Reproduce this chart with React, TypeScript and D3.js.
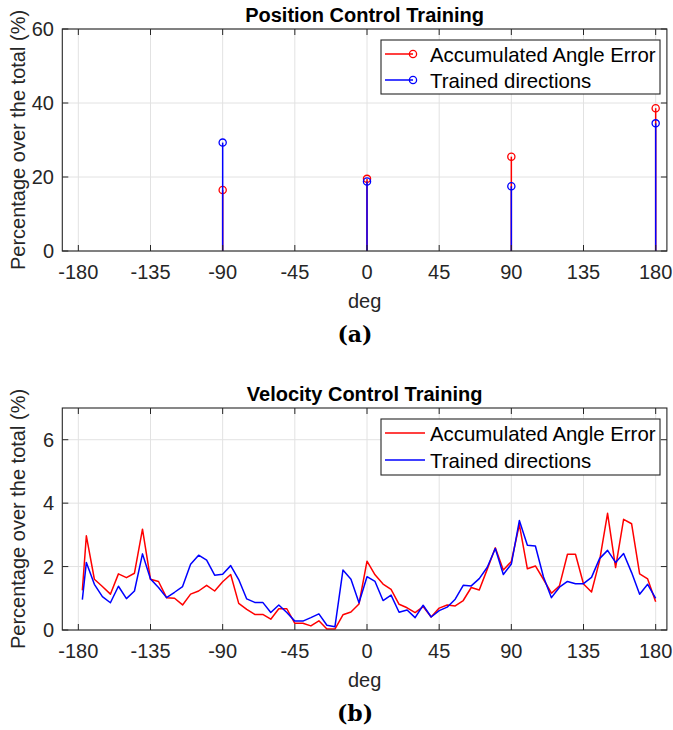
import React from "react";
import * as d3 from "d3";

// ---------- data ----------
const xTicks = [-180, -135, -90, -45, 0, 45, 90, 135, 180];
const posYTicks = [0, 20, 40, 60];
const velYTicks = [0, 2, 4, 6];

const posDeg = [-90, 0, 90, 180];
const posError = [16.5, 19.5, 25.5, 38.6];
const posTrained = [29.3, 18.8, 17.5, 34.5];

const velDeg = [
  -177.5, -175, -170, -165, -160, -155, -150, -145, -140, -135, -130, -125, -120, -115, -110, -105,
  -100, -95, -90, -85, -80, -75, -70, -65, -60, -55, -50, -45, -40, -35, -30, -25, -20, -15, -10, -5,
  0, 5, 10, 15, 20, 25, 30, 35, 40, 45, 50, 55, 60, 65, 70, 75, 80, 85, 90, 95, 100, 105, 110, 115,
  120, 125, 130, 135, 140, 145, 150, 155, 160, 165, 170, 175, 180,
];
const velError = [
  1.25, 2.97, 1.6, 1.37, 1.13, 1.77, 1.65, 1.79, 3.18, 1.6, 1.53, 1.02, 1.0, 0.79, 1.13, 1.23,
  1.41, 1.23, 1.52, 1.75, 0.84, 0.65, 0.49, 0.49, 0.34, 0.67, 0.67, 0.21, 0.21, 0.13, 0.29, 0.03, 0.03, 0.48, 0.57, 0.82,
  2.17, 1.74, 1.45, 1.28, 0.81, 0.7, 0.55, 0.74, 0.41, 0.69, 0.79, 0.76, 0.93, 1.34, 1.26, 1.92, 2.59, 1.89, 2.16, 3.32, 1.93, 2.02, 1.6, 1.16,
  1.39, 2.39, 2.39, 1.45, 1.2, 2.18, 3.68, 1.97, 3.49, 3.35, 1.77, 1.61, 0.89,
];
const velTrained = [
  0.96, 2.13, 1.44, 1.05, 0.86, 1.38, 0.99, 1.23, 2.4, 1.61, 1.34, 1.02, 1.19, 1.37, 2.07, 2.36,
  2.2, 1.73, 1.76, 2.03, 1.59, 0.98, 0.87, 0.87, 0.55, 0.79, 0.55, 0.28, 0.28, 0.39, 0.51, 0.15, 0.1, 1.89, 1.6, 0.86,
  1.68, 1.53, 0.93, 1.1, 0.56, 0.63, 0.39, 0.78, 0.41, 0.61, 0.72, 0.97, 1.41, 1.39, 1.62, 1.98, 2.57, 1.75, 2.08, 3.45, 2.67, 2.65, 1.68, 1.02,
  1.35, 1.53, 1.46, 1.46, 1.66, 2.25, 2.51, 2.13, 2.41, 1.81, 1.13, 1.44, 1.0,
];

const legendLabels = ["Accumulated Angle Error", "Trained directions"];
const seriesColors = ["#ff0000", "#0000ff"];

// ---------- layout ----------
const W = 673;
const H = 730;
const LEFT = 62.3;
const RIGHT = 666.9;
const AX = "#262626";
const GRID = "#e2e2e2";
const FONT = "'Liberation Sans', Arial, Helvetica, sans-serif";

const x = d3.scaleLinear().domain([-190, 187]).range([LEFT, RIGHT]);

type PanelProps = {
  top: number;
  bottom: number;
  y: d3.ScaleLinear<number, number>;
  yTicks: number[];
  title: string;
  caption: string;
  children?: React.ReactNode;
};

function Panel({ top, bottom, y, yTicks, title, caption, children }: PanelProps) {
  const tl = 6;
  const cx = (LEFT + RIGHT) / 2;
  return (
    <g>
      {xTicks.map((t) => (
        <line key={"gx" + t} x1={x(t)} x2={x(t)} y1={top} y2={bottom} stroke={GRID} strokeWidth={1} />
      ))}
      {yTicks.map((t) => (
        <line key={"gy" + t} x1={LEFT} x2={RIGHT} y1={y(t)} y2={y(t)} stroke={GRID} strokeWidth={1} />
      ))}
      {children}
      <rect x={LEFT} y={top} width={RIGHT - LEFT} height={bottom - top} fill="none" stroke={AX} strokeWidth={1.1} />
      {xTicks.map((t) => (
        <g key={"tx" + t}>
          <line x1={x(t)} x2={x(t)} y1={bottom} y2={bottom - tl} stroke={AX} strokeWidth={1} />
          <line x1={x(t)} x2={x(t)} y1={top} y2={top + tl} stroke={AX} strokeWidth={1} />
          <text x={x(t)} y={bottom + 28} textAnchor="middle" fontFamily={FONT} fontSize={20} fill={AX}>
            {String(t)}
          </text>
        </g>
      ))}
      {yTicks.map((t) => (
        <g key={"ty" + t}>
          <line x1={LEFT} x2={LEFT + tl} y1={y(t)} y2={y(t)} stroke={AX} strokeWidth={1} />
          <line x1={RIGHT} x2={RIGHT - tl} y1={y(t)} y2={y(t)} stroke={AX} strokeWidth={1} />
          <text x={54} y={y(t) + 7.2} textAnchor="end" fontFamily={FONT} fontSize={20} fill={AX}>
            {String(t)}
          </text>
        </g>
      ))}
      <text x={cx} y={top - 7} textAnchor="middle" fontFamily={FONT} fontWeight="bold" fontSize={20} fill="#000">
        {title}
      </text>
      <text x={cx} y={bottom + 57} textAnchor="middle" fontFamily={FONT} fontSize={20} fill={AX}>
        deg
      </text>
      <text
        transform={`translate(25,${(top + bottom) / 2}) rotate(-90)`}
        textAnchor="middle"
        fontFamily={FONT}
        fontSize={20}
        fill={AX}
      >
        Percentage over the total (%)
      </text>
      <text x={355} y={bottom + 91} textAnchor="middle" fontFamily="'DejaVu Serif', 'Liberation Serif', serif" fontWeight="bold" fontSize={22} fill="#000">
        {caption}
      </text>
    </g>
  );
}

function Legend({ top, markers }: { top: number; markers: boolean }) {
  const lx = 381;
  const rx = 660;
  const h = markers ? 54 : 56;
  const rows = markers ? [top + 14, top + 40] : [top + 14, top + 41];
  const lineEnd = markers ? 413 : 425;
  return (
    <g>
      <rect x={lx} y={top} width={rx - lx} height={h} fill="#fff" stroke={AX} strokeWidth={1.1} />
      {legendLabels.map((lab, i) => (
        <g key={lab}>
          <line x1={385} x2={lineEnd} y1={rows[i]} y2={rows[i]} stroke={seriesColors[i]} strokeWidth={1.5} />
          {markers && <circle cx={413} cy={rows[i]} r={3.6} fill="none" stroke={seriesColors[i]} strokeWidth={1.3} />}
          <text x={430} y={rows[i] + 7.5} fontFamily={FONT} fontSize={20.4} fill="#000">
            {lab}
          </text>
        </g>
      ))}
    </g>
  );
}

export default function App() {
  const yPos = d3.scaleLinear().domain([0, 60]).range([251, 29]);
  const yVel = d3.scaleLinear().domain([0, 7]).range([630, 408]);

  const lineGen = (vals: number[]) =>
    d3
      .line<number>()
      .x((_, i) => x(velDeg[i]))
      .y((v) => yVel(v))(vals) as string;

  const stems = (vals: number[], color: string) =>
    posDeg.map((d, i) => (
      <g key={color + d}>
        <line x1={x(d)} x2={x(d)} y1={yPos(0)} y2={yPos(vals[i])} stroke={color} strokeWidth={1.5} />
        <circle cx={x(d)} cy={yPos(vals[i])} r={3.6} fill="none" stroke={color} strokeWidth={1.3} />
      </g>
    ));

  return (
    <svg width={W} height={H} style={{ position: "absolute", left: 0, top: 0, background: "#fff" }}>
      <rect x={0} y={0} width={W} height={H} fill="#fff" />
      <Panel top={29} bottom={251} y={yPos} yTicks={posYTicks} title="Position Control Training" caption="(a)">
        {stems(posError, seriesColors[0])}
        {stems(posTrained, seriesColors[1])}
      </Panel>
      <Legend top={40} markers={true} />

      <Panel top={408} bottom={630} y={yVel} yTicks={velYTicks} title="Velocity Control Training" caption="(b)">
        <path d={lineGen(velError)} fill="none" stroke={seriesColors[0]} strokeWidth={1.5} strokeLinejoin="round" />
        <path d={lineGen(velTrained)} fill="none" stroke={seriesColors[1]} strokeWidth={1.5} strokeLinejoin="round" />
      </Panel>
      <Legend top={419} markers={false} />
    </svg>
  );
}
